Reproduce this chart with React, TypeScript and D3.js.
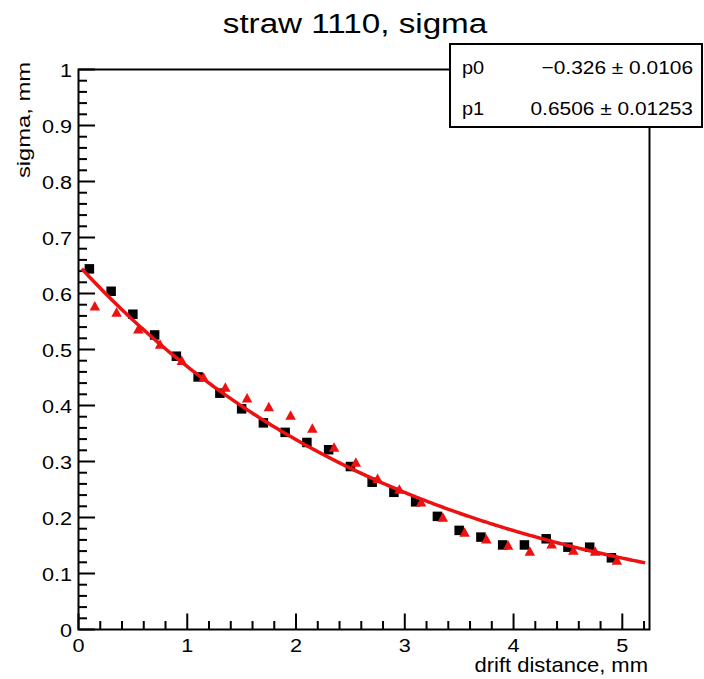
import React from "react";
import * as d3 from "d3";

const title = "straw 1110, sigma";
const xTitle = "drift distance, mm";
const yTitle = "sigma, mm";

const xSquares = [0.1, 0.3, 0.5, 0.7, 0.9, 1.1, 1.3, 1.5, 1.7, 1.9, 2.1, 2.3, 2.5, 2.7, 2.9, 3.1, 3.3, 3.5, 3.7, 3.9, 4.1, 4.3, 4.5, 4.7, 4.9];
const ySquares = [0.644, 0.604, 0.563, 0.526, 0.488, 0.451, 0.422, 0.394, 0.369, 0.352, 0.334, 0.321, 0.291, 0.263, 0.245, 0.228, 0.202, 0.177, 0.165, 0.151, 0.151, 0.162, 0.147, 0.147, 0.128];

const xTriangles = [0.15, 0.35, 0.55, 0.75, 0.95, 1.15, 1.35, 1.55, 1.75, 1.95, 2.15, 2.35, 2.55, 2.75, 2.95, 3.15, 3.35, 3.55, 3.75, 3.95, 4.15, 4.35, 4.55, 4.75, 4.95];
const yTriangles = [0.578, 0.567, 0.537, 0.51, 0.481, 0.451, 0.433, 0.414, 0.398, 0.383, 0.36, 0.326, 0.299, 0.27, 0.251, 0.228, 0.201, 0.174, 0.162, 0.151, 0.14, 0.153, 0.142, 0.14, 0.124];

const paramNames = ["p0", "p1"];
const paramValues = [-0.326, 0.6506];
const paramLabels = ["\u22120.326 \u00b1 0.0106", "0.6506 \u00b1 0.01253"];
const fitRange = [0.03, 5.22];

const xMajorTicks = [0, 1, 2, 3, 4, 5];
const yMajorTicks = [0, 0.1, 0.2, 0.3, 0.4, 0.5, 0.6, 0.7, 0.8, 0.9, 1];

const W = 704;
const H = 679;
const FONT = "'Liberation Sans', Arial, Helvetica, sans-serif";

function SText({ x, y, size, sx = 1.2, anchor = "start", rotate = 0, children }: any) {
  return (
    <g transform={`translate(${x},${y}) rotate(${rotate}) scale(${sx},1)`}>
      <text textAnchor={anchor} fontFamily={FONT} fontSize={size} fill="#000">
        {children}
      </text>
    </g>
  );
}

export default function App() {
  const x = d3.scaleLinear().domain([0, 5.25]).range([78.5, 649.5]);
  const y = d3.scaleLinear().domain([0, 1]).range([629.5, 69.5]);

  const xMinor = d3.range(0, 27).map((i) => i * 0.2).filter((v) => v <= 5.25 && Math.abs(v - Math.round(v)) > 1e-6);
  const yMinor = d3.range(0, 51).map((i) => i * 0.02).filter((v) => Math.abs(v * 10 - Math.round(v * 10)) > 1e-6);

  const fitFn = (t: number) => paramValues[1] * Math.exp(paramValues[0] * t);
  const fitXs = d3.range(fitRange[0], fitRange[1] + 1e-9, 0.02);
  const line = d3
    .line<number>()
    .x((t) => x(t))
    .y((t) => y(fitFn(t)));

  const fmtY = (v: number) => (v === 0 ? "0" : v === 1 ? "1" : d3.format(".1f")(v));

  const sq = 9.5;
  const tri = (cx: number, cy: number) => {
    const s = 10.5;
    const h = 9.5;
    return `M${cx - s / 2},${cy + h / 2}L${cx + s / 2},${cy + h / 2}L${cx},${cy - h / 2}Z`;
  };

  const left = x(0);
  const right = x(5.25);
  const top = y(1);
  const bottom = y(0);

  return (
    <svg width={W} height={H} style={{ position: "absolute", left: 0, top: 0, background: "#fff" }}>
      <rect x={0} y={0} width={W} height={H} fill="#fff" />
      <rect x={left} y={top} width={right - left} height={bottom - top} fill="none" stroke="#000" strokeWidth={2} />

      {xMajorTicks.map((v) => (
        <line key={"xm" + v} x1={x(v)} x2={x(v)} y1={bottom} y2={bottom - 16} stroke="#000" strokeWidth={2} />
      ))}
      {xMinor.map((v, i) => (
        <line key={"xn" + i} x1={x(v)} x2={x(v)} y1={bottom} y2={bottom - 8.5} stroke="#000" strokeWidth={2} />
      ))}
      {xMajorTicks.map((v) => (
        <SText key={"xl" + v} x={x(v)} y={652} size={19} sx={1.14} anchor="middle">
          {String(v)}
        </SText>
      ))}

      {yMajorTicks.map((v) => (
        <line key={"ym" + v} x1={left} x2={left + 16.5} y1={y(v)} y2={y(v)} stroke="#000" strokeWidth={2} />
      ))}
      {yMinor.map((v, i) => (
        <line key={"yn" + i} x1={left} x2={left + 8.5} y1={y(v)} y2={y(v)} stroke="#000" strokeWidth={2} />
      ))}
      {yMajorTicks.map((v) => (
        <SText key={"yl" + v} x={72} y={y(v) + 7} size={19} sx={1.14} anchor="end">
          {fmtY(v)}
        </SText>
      ))}

      <SText x={648} y={672} size={20} sx={1.1} anchor="end">
        {xTitle}
      </SText>
      <SText x={30} y={62} size={19} sx={1.25} anchor="end" rotate={-90}>
        {yTitle}
      </SText>

      {xSquares.map((v, i) => (
        <rect key={"s" + i} x={x(v) - sq / 2} y={y(ySquares[i]) - sq / 2} width={sq} height={sq} fill="#000" />
      ))}

      <path d={line(fitXs) || ""} fill="none" stroke="#ee1111" strokeWidth={3.5} />

      {xTriangles.map((v, i) => (
        <path key={"t" + i} d={tri(x(v), y(yTriangles[i]))} fill="#ee1111" />
      ))}

      <SText x={355} y={33} size={27} sx={1.23} anchor="middle">
        {title}
      </SText>

      <rect x={450} y={44} width={252} height={83} fill="#fff" stroke="#000" strokeWidth={2} />
      {paramNames.map((n, i) => (
        <g key={"p" + i}>
          <SText x={462} y={74 + i * 41} size={19} sx={1.05} anchor="start">
            {n}
          </SText>
          <SText x={693} y={74 + i * 41} size={19} sx={1.1} anchor="end">
            {paramLabels[i]}
          </SText>
        </g>
      ))}
    </svg>
  );
}
